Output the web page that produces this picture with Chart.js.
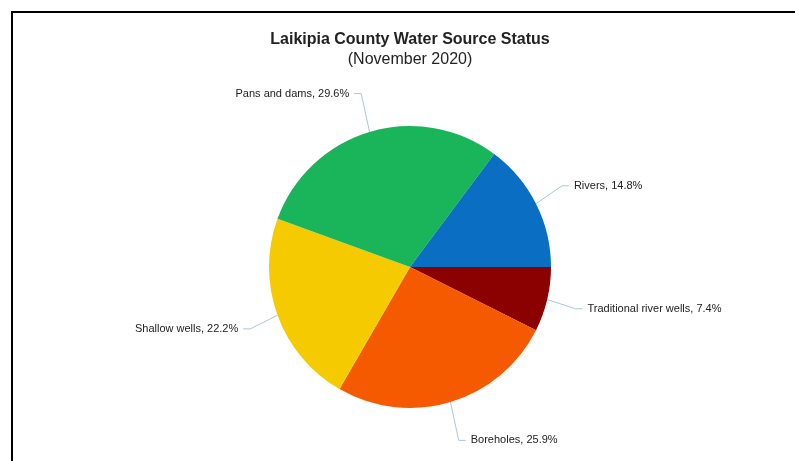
<!DOCTYPE html>
<html>
<head>
<meta charset="utf-8">
<script src="https://cdn.jsdelivr.net/npm/chart.js@4"></script>
<style>
  html, body { margin: 0; padding: 0; background: #fff; }
  canvas { display: block; }
</style>
</head>
<body>
<canvas id="waterPie" width="795" height="461"></canvas>
<script>
// slices in clockwise order starting at 3 o'clock
var categories = ["Traditional river wells", "Boreholes", "Shallow wells", "Pans and dams", "Rivers"];
var counts = [2, 7, 6, 8, 4];
var colours = ["#8b0000", "#f55a00", "#f5cb00", "#1ab45a", "#0a6ec2"];

var total = counts.reduce(function (a, b) { return a + b; }, 0);

// outer labels with small connector lines
var outerLabels = {
    id: "outerLabels",
    beforeDraw: function (chart) {
        var c = chart.ctx;
        c.save();
        c.strokeStyle = "#000";
        c.lineWidth = 2;
        c.beginPath();
        c.moveTo(12, chart.height);
        c.lineTo(12, 12);
        c.lineTo(chart.width, 12);
        c.stroke();
        c.restore();
    },
    afterDatasetsDraw: function (chart) {
        var c = chart.ctx;
        var arcs = chart.getDatasetMeta(0).data;
        c.save();
        c.font = "11px 'Liberation Sans', Arial, sans-serif";
        c.fillStyle = "#222";
        c.strokeStyle = "#a9c9d2";
        c.lineWidth = 1;
        c.textBaseline = "middle";
        arcs.forEach(function (arc, i) {
            var p = arc.getProps(["x", "y", "startAngle", "endAngle", "outerRadius"], true);
            var a = (p.startAngle + p.endAngle) / 2;
            var r = p.outerRadius;
            var dir = Math.cos(a) >= 0 ? 1 : -1;
            var ex = p.x + r * Math.cos(a), ey = p.y + r * Math.sin(a);
            var bx = p.x + (r + 29) * Math.cos(a), by = p.y + (r + 40) * Math.sin(a);
            var hx = bx + dir * 7;
            c.beginPath();
            c.moveTo(ex, ey);
            c.lineTo(bx, by);
            c.lineTo(hx, by);
            c.stroke();
            var pct = (counts[i] / total * 100).toFixed(1);
            c.textAlign = dir > 0 ? "left" : "right";
            c.fillText(categories[i] + ", " + pct + "%", hx + dir * 5, by);
        });
        c.restore();
    }
};

new Chart(document.getElementById("waterPie"), {
    type: "pie",
    data: {
        labels: categories,
        datasets: [{
            data: counts,
            backgroundColor: colours,
            borderWidth: 0
        }]
    },
    options: {
        responsive: false,
        animation: false,
        rotation: 90,
        layout: { padding: { left: 269, right: 244, top: 0, bottom: 53 } },
        plugins: {
            legend: { display: false },
            tooltip: { enabled: false },
            title: {
                display: true,
                text: "Laikipia County Water Source Status",
                color: "#222",
                font: { family: "'Liberation Sans', Arial, sans-serif", size: 16, weight: "bold", lineHeight: 1.2 },
                padding: { top: 30, bottom: 0 }
            },
            subtitle: {
                display: true,
                text: "(November 2020)",
                color: "#222",
                font: { family: "'Liberation Sans', Arial, sans-serif", size: 16, weight: "normal", lineHeight: 1.2 },
                padding: { top: 1, bottom: 56.6 }
            }
        }
    },
    plugins: [outerLabels]
});
</script>
</body>
</html>
